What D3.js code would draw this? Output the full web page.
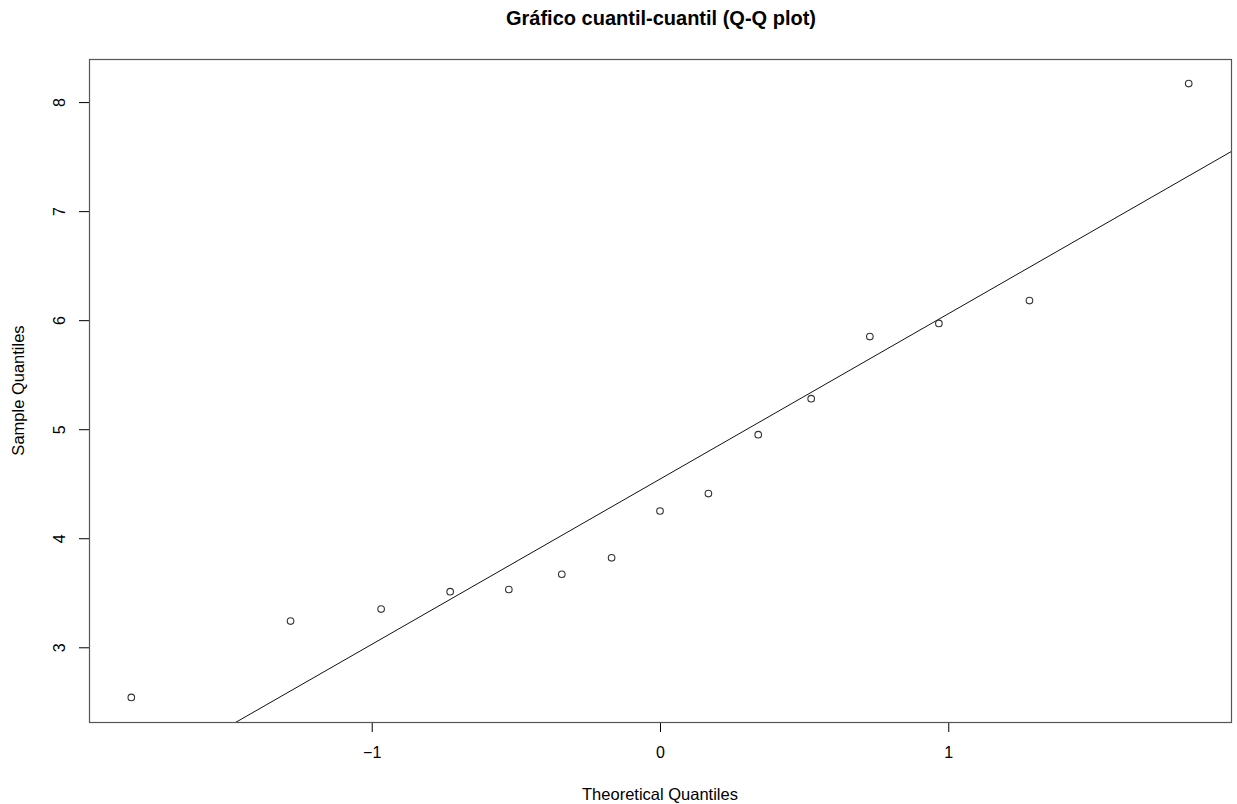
<!DOCTYPE html>
<html>
<head>
<meta charset="utf-8">
<script src="https://d3js.org/d3.v7.min.js"></script>
<style>
  body { margin: 0; background: #fff; }
  text { font-family: "Liberation Sans", Arial, sans-serif; fill: #000; }
</style>
</head>
<body>
<div id="chart"></div>
<script>
// theoretical normal quantiles, ppoints(15)
const theoretical = [-1.834, -1.2816, -0.9674, -0.7279, -0.5244, -0.3407, -0.1679, 0,
                     0.1679, 0.3407, 0.5244, 0.7279, 0.9674, 1.2816, 1.834];
// sample values (sorted)
const sample = [2.54, 3.24, 3.35, 3.51, 3.53, 3.67, 3.82, 4.25,
                4.41, 4.95, 5.28, 5.85, 5.97, 6.18, 8.17];
const xTicks = [-1, 0, 1];
const yTicks = [3, 4, 5, 6, 7, 8];
const qNorm75 = 0.6745; // qnorm(0.75)

const W = 1237, H = 804;
const box = {left: 89, right: 1231, top: 59, bottom: 722};

const svg = d3.select("#chart").append("svg")
    .attr("width", W).attr("height", H);

// R-style 4% padding on each side
function padded(ext) {
    const r = ext[1] - ext[0];
    return [ext[0] - 0.04 * r, ext[1] + 0.04 * r];
}

const x = d3.scaleLinear().domain(padded(d3.extent(theoretical))).range([box.left, box.right]);
const y = d3.scaleLinear().domain(padded(d3.extent(sample))).range([box.bottom, box.top]);

svg.append("defs").append("clipPath").attr("id", "clip")
    .append("rect")
    .attr("x", box.left).attr("y", box.top)
    .attr("width", box.right - box.left).attr("height", box.bottom - box.top);

// axes
svg.append("g")
    .attr("transform", `translate(0,${box.bottom})`)
    .call(d3.axisBottom(x).tickValues(xTicks).tickSize(10).tickPadding(15).tickFormat(d3.format("d")))
    .call(g => g.select(".domain").remove())
    .call(g => g.selectAll("text").attr("font-size", 16).attr("font-family", "Liberation Sans, Arial, sans-serif"));

const yAxis = svg.append("g")
    .attr("transform", `translate(${box.left},0)`)
    .call(d3.axisLeft(y).tickValues(yTicks).tickSize(10).tickFormat(d3.format("d")))
    .call(g => g.select(".domain").remove());
yAxis.selectAll(".tick text")
    .attr("x", 0).attr("dy", 0).attr("y", 0)
    .attr("text-anchor", "middle")
    .attr("transform", "translate(-24.5,0) rotate(-90)")
    .attr("font-size", 16)
    .attr("font-family", "Liberation Sans, Arial, sans-serif");
svg.selectAll(".tick line").attr("stroke", "#000");

// frame
svg.append("rect")
    .attr("x", box.left + 0.5).attr("y", box.top + 0.5)
    .attr("width", box.right - box.left).attr("height", box.bottom - box.top)
    .attr("fill", "none").attr("stroke", "#555").attr("stroke-width", 1.2);

// qqline through the 1st and 3rd quartiles
const q1 = d3.quantile(sample, 0.25), q3 = d3.quantile(sample, 0.75);
const slope = (q3 - q1) / (2 * qNorm75);
const intercept = q1 + qNorm75 * slope;
const xd = x.domain();
svg.append("line")
    .attr("clip-path", "url(#clip)")
    .attr("x1", x(xd[0])).attr("y1", y(intercept + slope * xd[0]))
    .attr("x2", x(xd[1])).attr("y2", y(intercept + slope * xd[1]))
    .attr("stroke", "#111").attr("stroke-width", 1);

// points
svg.append("g").selectAll("circle")
    .data(theoretical.map((t, i) => [t, sample[i]]))
    .join("circle")
    .attr("cx", d => x(d[0]))
    .attr("cy", d => y(d[1]))
    .attr("r", 3.3)
    .attr("fill", "none")
    .attr("stroke", "#333")
    .attr("stroke-width", 1.1);

// titles
svg.append("text")
    .attr("x", (box.left + box.right) / 2 + 1).attr("y", 25)
    .attr("text-anchor", "middle")
    .attr("font-size", 20).attr("font-weight", "bold")
    .text("Gráfico cuantil-cuantil (Q-Q plot)");

svg.append("text")
    .attr("x", (box.left + box.right) / 2).attr("y", 800)
    .attr("text-anchor", "middle")
    .attr("font-size", 16.5)
    .text("Theoretical Quantiles");

svg.append("text")
    .attr("transform", `translate(24,${(box.top + box.bottom) / 2}) rotate(-90)`)
    .attr("text-anchor", "middle")
    .attr("font-size", 16.5)
    .text("Sample Quantiles");
</script>
</body>
</html>
